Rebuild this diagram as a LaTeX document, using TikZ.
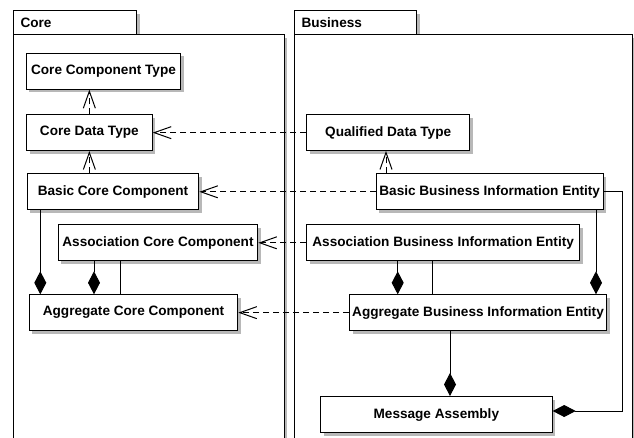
\documentclass[tikz,border=0pt]{standalone}
\usepackage{fontspec}
\setmainfont{Liberation Sans}
\usetikzlibrary{arrows.meta,shadows,calc}
\tikzset{
  shadowed/.style={drop shadow={shadow xshift=3pt, shadow yshift=-3pt, fill=black!28, opacity=1}},
  cls/.style={draw, line width=1pt, fill=white, inner sep=0pt, anchor=north west, shadowed,
    font=\bfseries\fontsize{13.6}{16}\selectfont},
  pkgtab/.style={draw, line width=1pt, fill=white, anchor=north west, shadowed,
    inner xsep=7pt, inner ysep=0pt, align=left, minimum height=24pt,
    font=\bfseries\fontsize{13.6}{16}\selectfont},
  pkgbody/.style={draw, line width=1pt, fill=white, anchor=north west, shadowed, inner sep=0pt},
  dep/.style={draw, line width=1pt, dash pattern=on 6pt off 4pt,
    -{Straight Barb[length=17pt,width=12pt,line width=1pt]}},
  comp/.style={draw, line width=1pt, -{Diamond[length=23pt,width=12pt]}},
  plainline/.style={draw, line width=1pt},
}
\begin{document}
\begin{tikzpicture}[x=1pt,y=-1pt]
\useasboundingbox (0,0) rectangle (634,437);
\clip (0,0) rectangle (634,437);
% packages
\node[pkgtab, text width=109pt] (coretab) at (13,10) {Core};
\node[pkgbody, minimum width=270.7pt, minimum height=430pt] (corebody) at (13,34) {};
\node[pkgtab, text width=108pt] (bustab) at (294,10) {Business};
\node[pkgbody, minimum width=337.7pt, minimum height=430pt] (busbody) at (294,34) {};
% classes
\node[cls, minimum width=154.6pt, minimum height=36pt] (cct) at (25.7,52.7) {Core Component Type};
\node[cls, minimum width=125.7pt, minimum height=35.7pt] (cdt) at (26,114.3) {Core Data Type};
\node[cls, minimum width=171.6pt, minimum height=36pt] (bcc) at (26.7,173.3) {Basic Core Component};
\node[cls, minimum width=199.6pt, minimum height=36pt] (acc) at (57.7,224.3) {Association Core Component};
\node[cls, minimum width=208.6pt, minimum height=35.7pt] (aggcc) at (28.7,294.3) {Aggregate Core Component};
\node[cls, minimum width=163.3pt, minimum height=35.7pt] (qdt) at (306,114.3) {Qualified Data Type};
\node[cls, minimum width=227pt, minimum height=36pt] (bbie) at (375.7,173.3) {Basic Business Information Entity};
\node[cls, minimum width=273.3pt, minimum height=36pt] (abie) at (306,224.3) {Association Business Information Entity};
\node[cls, minimum width=257pt, minimum height=35.7pt] (aggbie) at (349,294.3) {Aggregate Business Information Entity};
\node[cls, minimum width=231.7pt, minimum height=36.3pt] (ma) at (320,396) {Message Assembly};
% dependencies
\draw[dep] (cdt.north) -- (cdt.north |- cct.south);
\draw[dep] (cdt.south |- bcc.north) -- (cdt.south);
\draw[dep] (qdt.west) -- (cdt.east);
\draw[dep] (bbie.west) -- (bcc.east);
\coordinate (q1) at ([xshift=10.3pt]bbie.north west);
\draw[dep] (q1) -- (q1 |- qdt.south);
\draw[dep] (abie.west) -- (acc.east);
\draw[dep] (aggbie.west) -- (aggcc.east);
% compositions
\coordinate (c1) at ([xshift=13.6pt]bcc.south west);
\draw[comp] (c1) -- (c1 |- aggcc.north);
\coordinate (c2) at ([xshift=36.3pt]acc.south west);
\draw[comp] (c2) -- (c2 |- aggcc.north);
\coordinate (c3) at ([xshift=62.6pt]acc.south west);
\draw[plainline] (c3) -- (c3 |- aggcc.north);
\coordinate (b1) at ([xshift=91.7pt]abie.south west);
\draw[comp] (b1) -- (b1 |- aggbie.north);
\coordinate (b2) at ([xshift=126.3pt]abie.south west);
\draw[plainline] (b2) -- (b2 |- aggbie.north);
\coordinate (b3) at ([xshift=-7.7pt]bbie.south east);
\draw[comp] (b3) -- (b3 |- aggbie.north);
\coordinate (b4) at ([xshift=101pt]aggbie.south west);
\draw[comp] (b4) -- (b4 |- ma.north);
\coordinate (r2) at (622.3,411);
\draw[comp] (bbie.east) -| (r2) -- (r2 -| ma.east);
\end{tikzpicture}
\end{document}
